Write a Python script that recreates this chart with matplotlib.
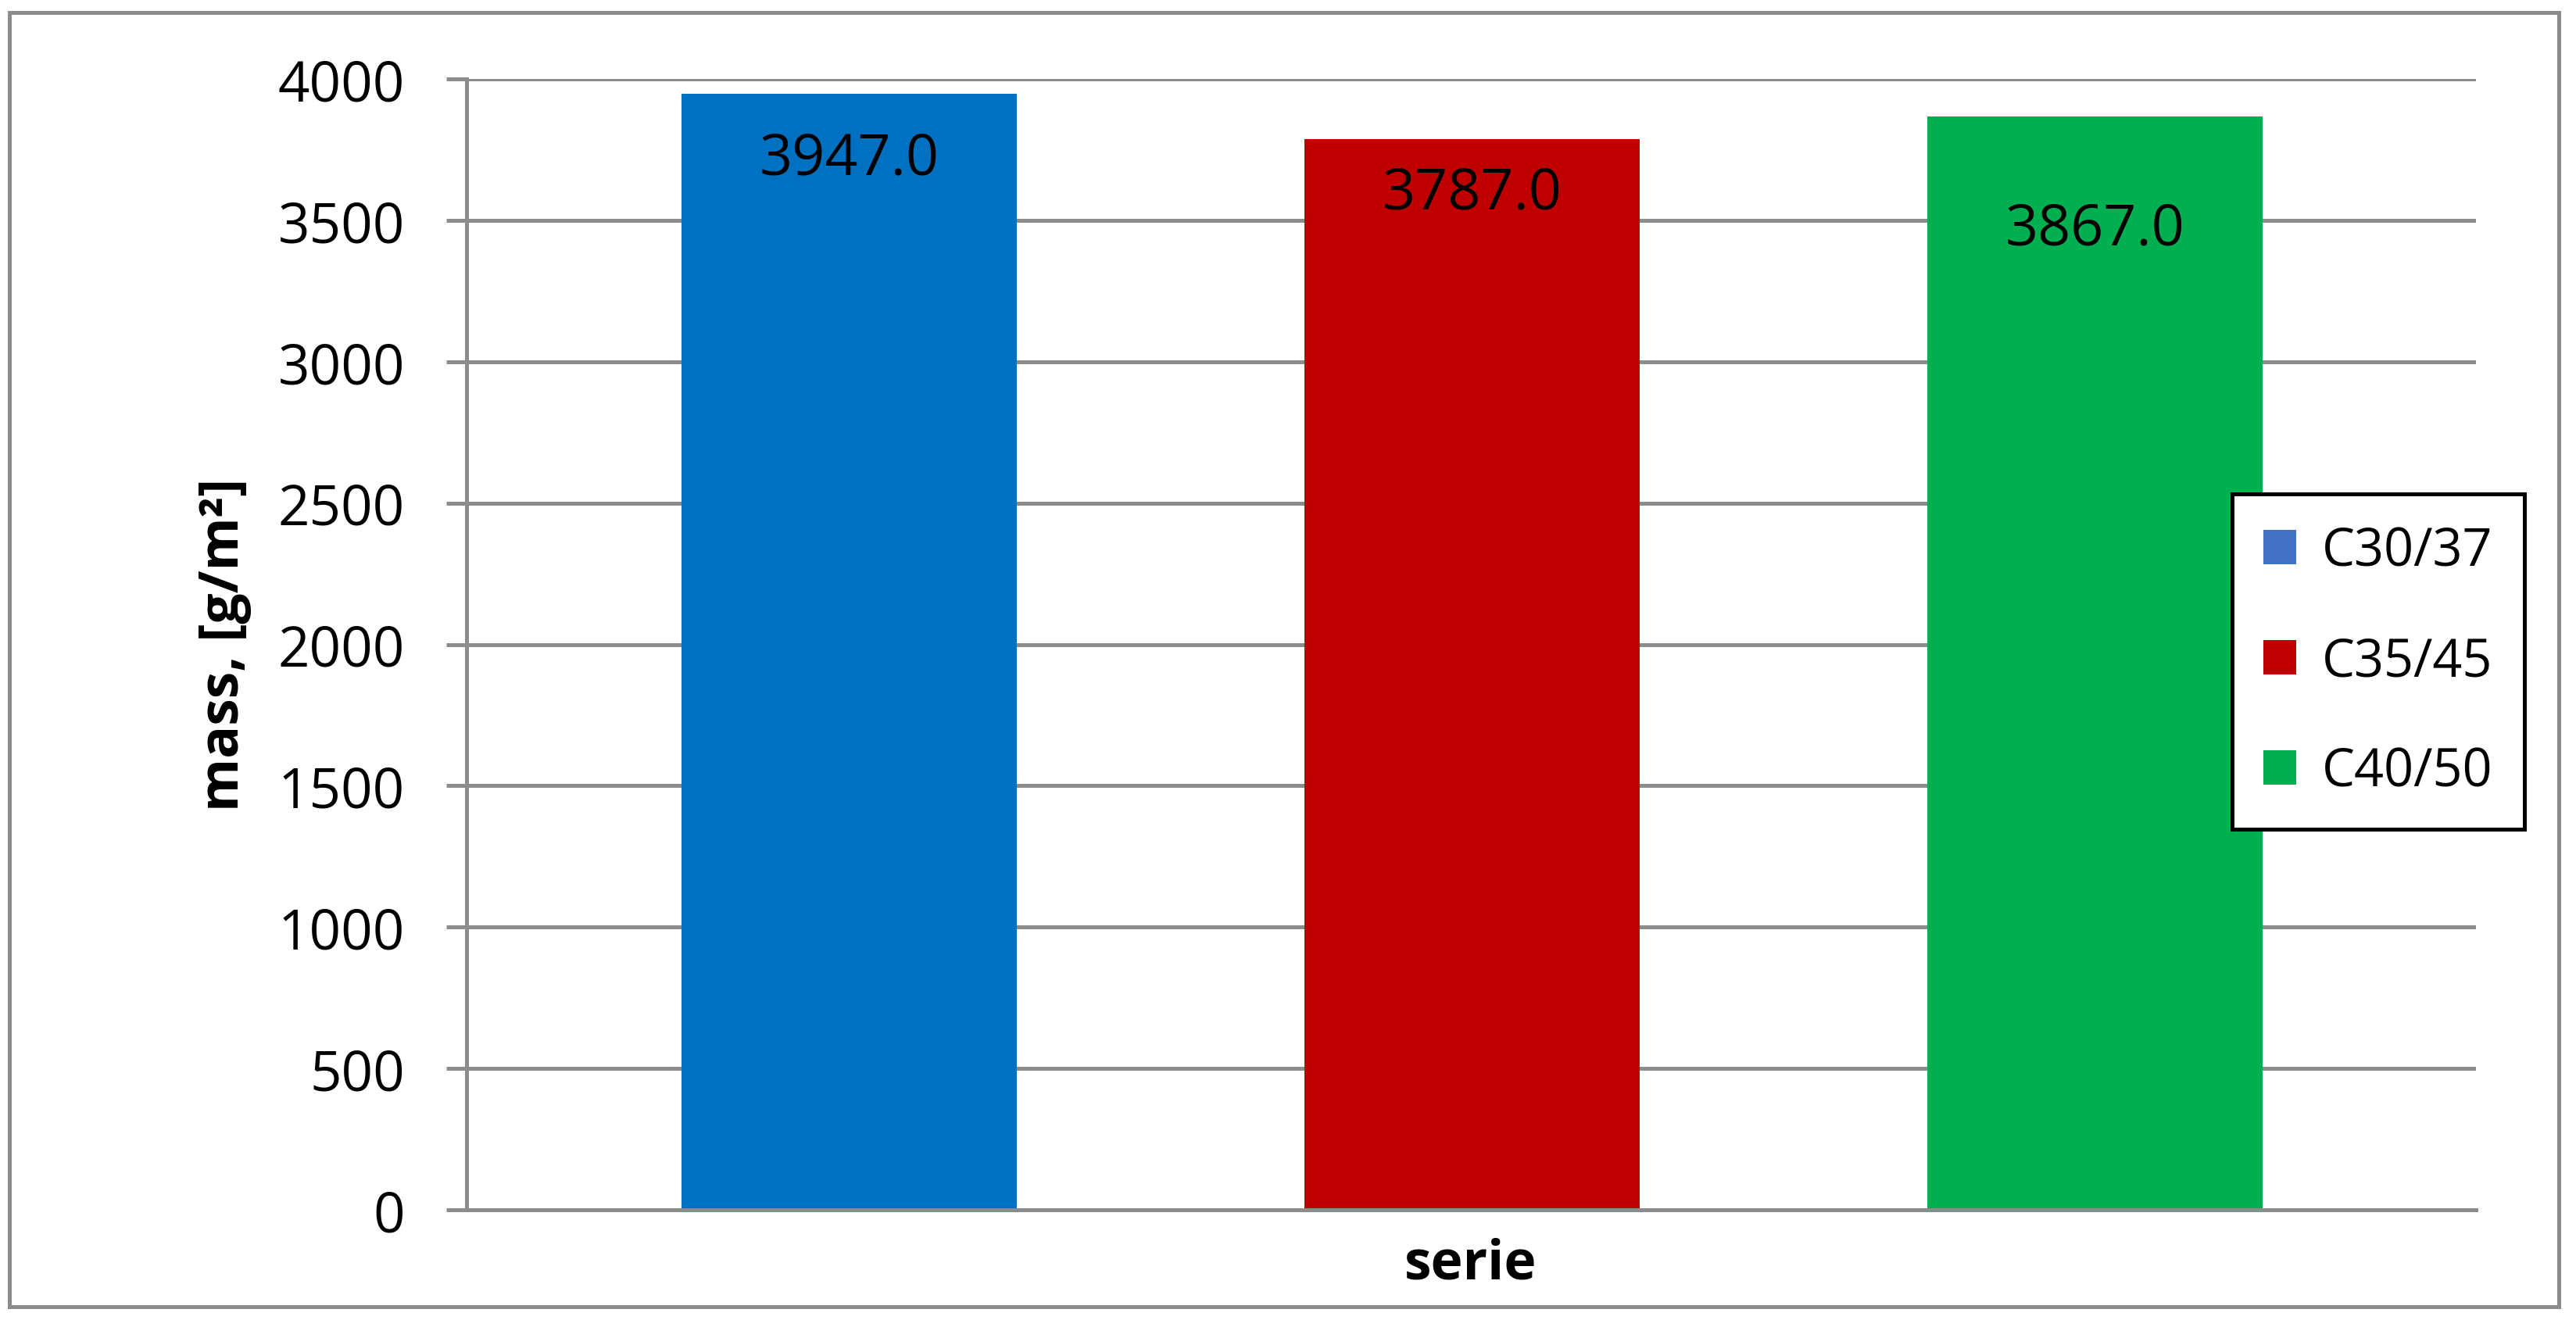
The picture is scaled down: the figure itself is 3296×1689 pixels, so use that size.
import matplotlib
matplotlib.use("Agg")
import matplotlib.pyplot as plt
from matplotlib.patches import Patch, Rectangle

# ---- data ----
series = ["C30/37", "C35/45", "C40/50"]
values = [3947.0, 3787.0, 3867.0]
bar_colors = ["#0070C0", "#C00000", "#00B050"]
legend_colors = ["#4472C4", "#C00000", "#00B050"]
yticks = [0, 500, 1000, 1500, 2000, 2500, 3000, 3500, 4000]
label_offsets_pt = [36.7, 31.7, 58.7]  # baseline offset of value labels below bar tops

W, H, DPI = 3296, 1690, 200
plt.rcParams['font.family'] = ['Open Sans', 'DejaVu Sans']
GRAY = "#8C8C8C"
LW = 1.8

fig = plt.figure(figsize=(W / DPI, H / DPI), dpi=DPI)
fig.patch.set_facecolor("white")

L, R, T, B = 597, 3168, 102, 1549
ax = fig.add_axes([L / W, 1 - B / H, (R - L) / W, (B - T) / H])

x = list(range(len(values)))
ax.bar(x, values, width=0.538, color=bar_colors, zorder=2)
ax.set_xlim(-0.614, 2.612)
ax.set_ylim(0, 4000)
ax.set_yticks(yticks)
ax.set_yticklabels([str(v) for v in yticks], fontsize=25.5)
ax.set_xticks([])
ax.set_axisbelow(True)
ax.yaxis.grid(True, color=GRAY, linewidth=LW)
for s in ["top", "right"]:
    ax.spines[s].set_visible(False)
for s in ["left", "bottom"]:
    ax.spines[s].set_color(GRAY)
    ax.spines[s].set_linewidth(LW)
ax.tick_params(axis="y", direction="out", length=9.4, width=LW, color=GRAY, pad=19)

for xi, v, off in zip(x, values, label_offsets_pt):
    ax.annotate(f"{v:.1f}", xy=(xi, v), xytext=(0, -off), textcoords="offset points",
                ha="center", va="baseline", fontsize=26.5, color="black", zorder=3)

fig.text(305 / W, 1 - 825 / H, "mass, [g/m²]", rotation=90, rotation_mode="anchor",
         ha="center", va="baseline", fontsize=25, fontweight="bold")
fig.text(1882 / W, 1 - 1637 / H, "serie", ha="center", va="baseline",
         fontsize=25, fontweight="bold")

handles = [Patch(facecolor=c, edgecolor="none") for c in legend_colors]
leg = fig.legend(handles, series, loc="upper left",
                 bbox_to_anchor=(2856 / W, 1 - 633 / H), bbox_transform=fig.transFigure,
                 borderaxespad=0, fontsize=24, frameon=True, fancybox=False,
                 borderpad=0.6, labelspacing=1.1, handlelength=0.63, handleheight=0.63,
                 handletextpad=0.5)
fr = leg.get_frame()
fr.set_edgecolor("black")
fr.set_linewidth(LW)
fr.set_facecolor("white")
fr.set_alpha(1)

fig.patches.append(Rectangle((12 / W, 1 - 1673 / H), 3262 / W, 1656 / H,
                             transform=fig.transFigure, fill=False,
                             edgecolor=GRAY, linewidth=LW))

fig.savefig("out.png", dpi=DPI, facecolor="white")
